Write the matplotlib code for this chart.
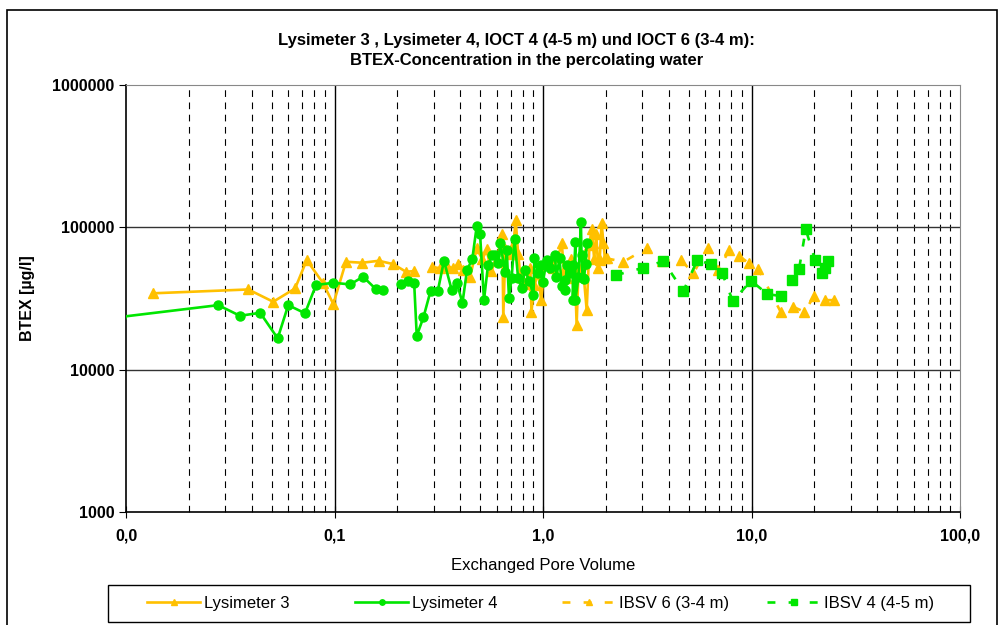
import numpy as np
import matplotlib.pyplot as plt
from matplotlib.ticker import FixedLocator, FixedFormatter, NullFormatter
from matplotlib.patches import Rectangle

plt.rcParams['font.family'] = ['Liberation Sans', 'DejaVu Sans']

nan = np.nan

# Lysimeter 3 (orange, solid, triangles)
lys3_x = [0.0135, 0.0386, 0.0508, 0.0647, 0.0736, 0.0883, 0.0987, 0.1135, 0.136, 0.163,
          0.191, 0.220, 0.240, nan, 0.294, 0.321, 0.345, 0.369, 0.393, 0.415,
          0.447, 0.481, 0.512, 0.537, 0.563, 0.60, 0.638, 0.645, 0.66, 0.70,
          0.72, 0.74, 0.76, 0.78, 0.82, 0.87, 0.88, 0.91, 0.95, 0.98,
          1.02, 1.08, 1.12, 1.18, 1.23, 1.26, 1.30, 1.36, 1.42, 1.45,
          1.48, 1.55, 1.62, 1.67, 1.71, 1.76, 1.80, 1.84, 1.87, 1.91,
          1.95, 1.98]
lys3_y = [34400, 36600, 30000, 37200, 58900, 40400, 28900, 57300, 56400, 58200,
          55200, 48800, 49200, nan, 52800, 51500, 53400, 51500, 55200, 50100,
          45000, 71100, 59600, 70000, 49200, 60000, 89300, 23500, 70000, 65000,
          75000, 112000, 65000, 45000, 40000, 51500, 25500, 39300, 48000, 30800,
          55000, 58000, 52000, 62000, 77300, 50100, 44000, 60000, 52000, 20600,
          50000, 55000, 26200, 75000, 98000, 60000, 90000, 51500, 58900, 107000,
          77300, 61000]

# Lysimeter 4 (green, solid, circles)
lys4_x = [0.0095, 0.0277, 0.0352, 0.0440, 0.0534, 0.060, 0.0722, 0.0815, 0.0987, 0.119,
          0.137, 0.158, 0.170, nan, 0.208, 0.224, 0.241, 0.248, 0.267, 0.289,
          0.313, 0.335, 0.365, 0.386, 0.411, 0.432, 0.458, 0.481, 0.499, 0.521,
          0.545, 0.571, 0.589, 0.611, 0.623, 0.658, 0.670, 0.687, 0.707, 0.730,
          0.76, 0.79, 0.82, 0.86, 0.90, 0.91, 0.95, 0.98, 1.0, 1.04,
          1.08, 1.14, 1.16, 1.20, 1.23, 1.27, 1.28, 1.30, 1.35, 1.39,
          1.39, 1.43, 1.43, 1.48, 1.52, 1.53, 1.55, 1.57, 1.60, 1.62]
lys4_y = [23500, 28400, 23900, 25100, 16600, 28400, 24900, 39300, 40800, 39700,
          45000, 36800, 36200, nan, 40000, 42200, 40800, 17300, 23300, 35800,
          35800, 58200, 36200, 40800, 29500, 50100, 59800, 102000, 89800, 30800,
          54300, 63800, 63800, 55800, 78000, 48800, 69200, 31700, 43900, 82400,
          43900, 37200, 50000, 42000, 33400, 60500, 47500, 54300, 41500, 59000,
          52000, 64000, 45000, 60500, 38700, 42700, 36200, 54300, 48000, 54300,
          30800, 79000, 30800, 45000, 109000, 64000, 43900, 43400, 55000, 77300]

# IBSV 6 (3-4 m) (orange, dashed, triangles)
ibsv6_x = [2.02, 2.43, 3.14, 3.71, 4.59, 5.26, 6.17, 6.93, 7.83, 8.75,
           9.73, 10.8, 13.8, 15.8, 17.9, 20.0, 22.5, 24.9]
ibsv6_y = [60500, 57300, 71100, 58200, 58900, 47500, 71900, 50100, 69200, 62800,
           55800, 50700, 25500, 27700, 25500, 32900, 30800, 30800]

# IBSV 4 (4-5 m) (green, dashed, squares)
ibsv4_x = [2.24, 3.03, 3.78, 4.71, 5.50, 6.37, 7.24, 8.13, 9.95, 11.9,
           13.8, 15.6, 16.9, 18.2, 20.2, 21.7, 22.5, 23.4]
ibsv4_y = [46200, 52000, 57900, 35600, 58900, 55000, 47500, 30300, 42200, 34000,
           32900, 42700, 50700, 96800, 58900, 48000, 51500, 57900]

x_ticks = [0.01, 0.1, 1, 10, 100]
x_labels = ['0,0', '0,1', '1,0', '10,0', '100,0']
y_ticks = [1000, 10000, 100000, 1000000]
y_labels = ['1000', '10000', '100000', '1000000']

orange = '#FFC000'
green = '#00E600'

fig = plt.figure(figsize=(10, 6.25), dpi=100)
fig.patches.append(Rectangle((0.007, -0.02), 0.99, 1.004, transform=fig.transFigure,
                             fill=False, edgecolor='black', linewidth=1.2))
ax = fig.add_axes([0.126, 0.1808, 0.834, 0.6832])

ax.set_xscale('log')
ax.set_yscale('log')
ax.set_xlim(0.01, 100)
ax.set_ylim(1000, 1000000)

# grid
minor_x = [m * 10.0 ** e for e in range(-2, 2) for m in range(2, 10)]
for v in minor_x:
    ax.axvline(v, color='black', linewidth=0.8, dashes=(6, 5), zorder=1)
for v in [0.1, 1, 10]:
    ax.axvline(v, color='black', linewidth=1.0, zorder=1)
for v in [10000, 100000]:
    ax.axhline(v, color='#333333', linewidth=1.0, zorder=1)

l3, = ax.plot(lys3_x, lys3_y, color=orange, linewidth=1.9, marker='^', markersize=6.5,
              label='Lysimeter 3', zorder=3)
l4, = ax.plot(lys4_x, lys4_y, color=green, linewidth=1.9, marker='o', markersize=6.5,
              label='Lysimeter 4', zorder=4)
i6, = ax.plot(ibsv6_x, ibsv6_y, color=orange, linewidth=1.9, dashes=(3, 5), marker='^',
              markersize=6.5, label='IBSV 6 (3-4 m)', zorder=3)
i4, = ax.plot(ibsv4_x, ibsv4_y, color=green, linewidth=1.9, dashes=(3, 5), marker='s',
              markersize=6.5, label='IBSV 4 (4-5 m)', zorder=4)

ax.xaxis.set_major_locator(FixedLocator(x_ticks))
ax.xaxis.set_major_formatter(FixedFormatter(x_labels))
ax.xaxis.set_minor_formatter(NullFormatter())
ax.yaxis.set_major_locator(FixedLocator(y_ticks))
ax.yaxis.set_major_formatter(FixedFormatter(y_labels))
ax.yaxis.set_minor_locator(FixedLocator([]))
ax.tick_params(axis='x', which='major', direction='inout', length=8, pad=8, labelsize=11.5)
ax.tick_params(axis='x', which='minor', direction='in', length=4)
ax.tick_params(axis='y', which='major', direction='out', length=5, labelsize=11.5)
for lab in ax.get_xticklabels() + ax.get_yticklabels():
    lab.set_fontweight('bold')

for side in ['top', 'right']:
    ax.spines[side].set_color('#888888')
for side in ['left', 'bottom']:
    ax.spines[side].set_color('black')
    ax.spines[side].set_linewidth(1.2)

ax.set_xlabel('Exchanged Pore Volume', fontsize=12, labelpad=10)
ax.set_ylabel('BTEX [µg/l]', fontsize=11.5, fontweight='bold', labelpad=12)

fig.text(0.516, 0.936, 'Lysimeter 3 , Lysimeter 4, IOCT 4 (4-5 m) und IOCT 6 (3-4 m):',
         ha='center', va='center', fontsize=12, fontweight='bold')
fig.text(0.527, 0.904, 'BTEX-Concentration in the percolating water',
         ha='center', va='center', fontsize=12, fontweight='bold')

# legend: frame plus one entry per column at fixed positions
fig.patches.append(Rectangle((0.108, 0.005), 0.862, 0.059, transform=fig.transFigure,
                             fill=False, edgecolor='black', linewidth=1.0))
for h, xpos in zip([l3, l4, i6, i4], [0.147, 0.355, 0.562, 0.767]):
    fig.legend(handles=[h], loc='center left', bbox_to_anchor=(xpos, 0.034), fontsize=12,
               handlelength=3.2, handletextpad=0.2, frameon=False, borderpad=0,
               borderaxespad=0, markerscale=0.6)

fig.savefig('out.png', dpi=100)
